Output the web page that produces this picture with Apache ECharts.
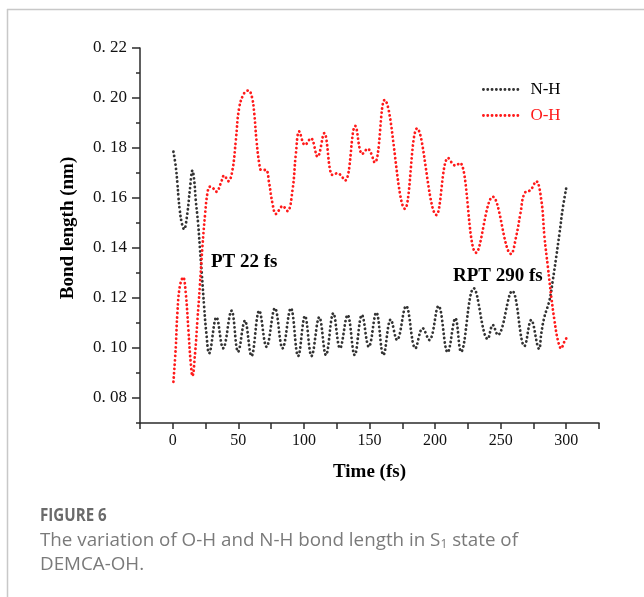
<!DOCTYPE html>
<html><head><meta charset="utf-8">
<script src="https://cdn.jsdelivr.net/npm/echarts@6/dist/echarts.min.js"></script>
<style>html,body{margin:0;padding:0;background:#fff}#c{width:644px;height:597px}</style>
</head><body><div id="c"></div>
<script>
// N-H bond length (nm) vs time (fs)
const nhTime = [0.5, 2.3, 3.5, 4.3, 5.3, 6.9, 8.6, 11.1, 13, 15, 16.3, 17.5, 19.3, 20.6, 22.1, 23.9, 25.6, 27.7,
  33.3, 38.4, 44.8, 49.8, 55, 60, 65.9, 71.5, 77.9, 83.7, 90, 95.6, 100.8, 105.8, 111.7, 116.8, 122.4, 127.5,
  133.3, 138.7, 144.2, 149.5, 155.2, 160.6, 166.2, 171, 177.9, 185, 190.5, 195.6, 202.6, 209.6, 215.5, 219.8,
  229.5, 240.2, 244, 247.8, 258.8, 268.2, 273.3, 279.3, 281, 283.4, 287.3, 289.8, 292.4, 294.9, 297.4, 300];
const nhValue = [0.1785, 0.1725, 0.1659, 0.1605, 0.1552, 0.1499, 0.1475, 0.1539, 0.1632, 0.171, 0.1672, 0.1592, 0.1499, 0.1405, 0.1299, 0.1165, 0.1059, 0.0979,
  0.1123, 0.0999, 0.1149, 0.0985, 0.1109, 0.0968, 0.1149, 0.1005, 0.1159, 0.0999, 0.1159, 0.0968, 0.1128, 0.0968, 0.1123, 0.0972, 0.1139, 0.0999,
  0.1132, 0.0972, 0.1132, 0.1005, 0.1142, 0.0972, 0.1114, 0.1032, 0.1168, 0.0999, 0.1079, 0.1032, 0.1168, 0.0983, 0.1119, 0.0985,
  0.1239, 0.1036, 0.1092, 0.1052, 0.1228, 0.1008, 0.1112, 0.0997, 0.1059, 0.1125, 0.1192, 0.1272, 0.1365, 0.1460, 0.1560, 0.1639];
// O-H bond length (nm) vs time (fs)
const ohTime = [0.5, 2.3, 3.5, 5.3, 7.9, 9.9, 11.9, 13.7, 15, 17, 18.8, 20.6, 22.6, 24.7, 26.4, 28.2, 30.2, 33.3, 36.6, 39.2, 42.4, 45.5,
  48.1, 50.6, 54.4, 57.7, 60.3, 62.1, 63.8, 65.9, 67.5, 71, 73.5, 76, 78.6, 81.1, 83.7, 87.5, 91.3, 93.9, 96.4,
  100.8, 105.3, 110.4, 115.5, 121.8, 125.6, 131.4, 139.2, 144.5, 148.6, 154, 161.5, 177, 186.3, 201, 210, 215.5, 219,
  231.3, 244, 258, 261.8, 265.1, 268.2, 272.8, 277.1, 281, 283.4, 286, 288.6, 291, 293.6, 296.2, 298.3, 300];
const ohValue = [0.0865, 0.1005, 0.1139, 0.1245, 0.1283, 0.1219, 0.1072, 0.0939, 0.0888, 0.0979, 0.1112, 0.1245, 0.1405, 0.1539, 0.1619, 0.1645, 0.1642, 0.1625, 0.1659, 0.1690, 0.1667, 0.1712,
  0.1832, 0.1960, 0.2019, 0.2030, 0.2005, 0.1939, 0.1832, 0.1739, 0.1712, 0.1712, 0.1659, 0.1579, 0.1536, 0.1552, 0.1568, 0.1548, 0.1632, 0.1779, 0.1866,
  0.1812, 0.1839, 0.1765, 0.1859, 0.1692, 0.1699, 0.1670, 0.1888, 0.1776, 0.1797, 0.1742, 0.1992, 0.1557, 0.1878, 0.1532, 0.1760, 0.1730, 0.1740,
  0.1381, 0.1605, 0.1376, 0.1445, 0.1539, 0.1619, 0.1632, 0.1667, 0.1592, 0.1445, 0.1325, 0.1205, 0.1112, 0.1032, 0.0998, 0.1022, 0.1038];

const xLabelValues = [0, 50, 100, 150, 200, 250, 300];
const yLabelValues = [0.08, 0.10, 0.12, 0.14, 0.16, 0.18, 0.20, 0.22];
const yMinorValues = [0.07, 0.09, 0.11, 0.13, 0.15, 0.17, 0.19, 0.21];
const seriesNames = ['N-H', 'O-H'];
const annotations = ['PT 22 fs', 'RPT 290 fs'];
const figureLabel = 'FIGURE 6';

const serif = '"Liberation Serif", "DejaVu Serif", serif';
const sans = '"Open Sans", "Noto Sans", sans-serif';
const axisColor = '#2b2b2b';
const nhColor = '#333333';
const ohColor = '#ff1a1a';

const chart = echarts.init(document.getElementById('c'), null, {renderer: 'canvas'});
const dotStyle = (color) => ({color: color, width: 2.8, type: [0.1, 4.2], cap: 'round'});

chart.setOption({
  animation: false,
  backgroundColor: '#fff',
  grid: {left: 140, right: 45, top: 48, bottom: 174, containLabel: false},
  legend: {
    orient: 'vertical', left: 477, top: 76, itemWidth: 38, itemHeight: 14, itemGap: 9,
    itemStyle: {opacity: 0},
    lineStyle: {width: 2.8, type: [0.1, 4.2], cap: 'round'},
    data: [
      {name: seriesNames[0], textStyle: {color: '#000'}},
      {name: seriesNames[1], textStyle: {color: ohColor}}
    ],
    textStyle: {fontFamily: serif, fontSize: 17, padding: [0, 0, 0, 4]}
  },
  xAxis: {
    type: 'value', min: -25, max: 325, interval: 25,
    name: 'Time (fs)', nameLocation: 'middle', nameGap: 40,
    nameTextStyle: {fontFamily: serif, fontWeight: 'bold', fontSize: 19, color: '#000'},
    axisLine: {show: true, onZero: false, lineStyle: {color: axisColor, width: 1.5}},
    axisTick: {show: true, length: 6, lineStyle: {color: axisColor, width: 1.5}},
    axisLabel: {customValues: xLabelValues, margin: 10, fontFamily: serif, fontSize: 16, color: '#111'},
    splitLine: {show: false}
  },
  yAxis: [
    {
      type: 'value', min: 0.07, max: 0.22, position: 'left',
      axisLine: {show: true, onZero: false, lineStyle: {color: axisColor, width: 1.5}},
      axisTick: {show: true, length: 8, customValues: yLabelValues, lineStyle: {color: axisColor, width: 1.5}},
      axisLabel: {
        customValues: yLabelValues, margin: 13, fontFamily: serif, fontSize: 17, color: '#111',
        formatter: v => '0. ' + String(Math.round(v * 100)).padStart(2, '0')
      },
      splitLine: {show: false}
    },
    {
      type: 'value', min: 0.07, max: 0.22, position: 'left',
      axisLine: {show: true, onZero: false, lineStyle: {color: axisColor, width: 1.5, opacity: 0}},
      axisTick: {show: true, length: 4, customValues: yMinorValues, lineStyle: {color: axisColor, width: 1.5}},
      axisLabel: {show: false},
      splitLine: {show: false}
    }
  ],
  series: [
    {
      name: seriesNames[0], type: 'line', yAxisIndex: 0, showSymbol: false, symbol: 'none',
      smooth: 0.4, color: nhColor, lineStyle: dotStyle(nhColor),
      data: nhTime.map((t, i) => [t, nhValue[i]])
    },
    {
      name: seriesNames[1], type: 'line', yAxisIndex: 0, showSymbol: false, symbol: 'none',
      smooth: 0.4, color: ohColor, lineStyle: dotStyle(ohColor),
      data: ohTime.map((t, i) => [t, ohValue[i]])
    }
  ],
  graphic: [
    {type: 'line', shape: {x1: 7, y1: 9.5, x2: 644, y2: 9.5}, style: {stroke: '#c8c8c8', lineWidth: 1.5}, silent: true},
    {type: 'line', shape: {x1: 7.5, y1: 9, x2: 7.5, y2: 597}, style: {stroke: '#c8c8c8', lineWidth: 1.5}, silent: true},
    {type: 'text', x: 68, y: 228, rotation: Math.PI / 2,
      style: {text: 'Bond length (nm)', fontFamily: serif, fontWeight: 'bold', fontSize: 19, fill: '#000', align: 'center', verticalAlign: 'middle'}},
    {type: 'text', x: 211, y: 262,
      style: {text: annotations[0], fontFamily: serif, fontWeight: 'bold', fontSize: 19, fill: '#000', align: 'left', verticalAlign: 'middle'}},
    {type: 'text', x: 453, y: 276,
      style: {text: annotations[1], fontFamily: serif, fontWeight: 'bold', fontSize: 19, fill: '#000', align: 'left', verticalAlign: 'middle'}},
    {type: 'text', x: 40, y: 516, scaleX: 0.84,
      style: {text: figureLabel, fontFamily: sans, fontWeight: 'bold', fontSize: 18, fill: '#6a6a6a', align: 'left', verticalAlign: 'middle'}},
    {type: 'text', x: 40, y: 541,
      style: {
        text: 'The variation of O-H and N-H bond length in S{sub|1} state of',
        fontFamily: sans, fontSize: 18.8, fill: '#7a7a7a', align: 'left', verticalAlign: 'middle',
        rich: {sub: {fontFamily: sans, fontSize: 12, fill: '#7a7a7a', verticalAlign: 'bottom', padding: [7, 0, 0, 0]}}
      }},
    {type: 'text', x: 40, y: 565,
      style: {text: 'DEMCA-OH.', fontFamily: sans, fontSize: 18.8, fill: '#7a7a7a', align: 'left', verticalAlign: 'middle'}}
  ]
});
</script>
</body></html>
